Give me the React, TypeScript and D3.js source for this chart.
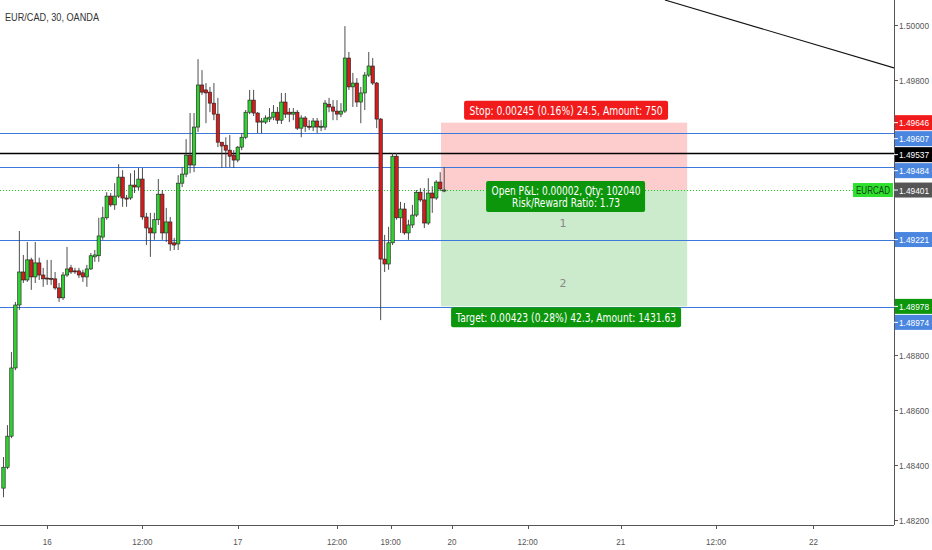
import React from 'react';
import * as d3 from 'd3';

// 30-minute candles, EUR/CAD
const opens = [1.48317,1.48393,1.48506,1.48754,1.48983,1.49103,1.49074,1.49147,1.49085,1.49136,1.49092,1.49081,1.49080,1.49078,1.49045,1.49009,1.49092,1.49118,1.49107,1.49107,1.49100,1.49085,1.49114,1.49158,1.49162,1.49230,1.49300,1.49379,1.49347,1.49379,1.49448,1.49372,1.49372,1.49419,1.49412,1.49441,1.49303,1.49263,1.49245,1.49293,1.49386,1.49245,1.49285,1.49209,1.49205,1.49426,1.49459,1.49528,1.49492,1.49630,1.49783,1.49765,1.49757,1.49717,1.49677,1.49575,1.49564,1.49546,1.49528,1.49510,1.49557,1.49593,1.49684,1.49728,1.49681,1.49648,1.49648,1.49659,1.49666,1.49684,1.49655,1.49721,1.49684,1.49677,1.49684,1.49626,1.49663,1.49633,1.49630,1.49652,1.49630,1.49630,1.49713,1.49703,1.49688,1.49677,1.49688,1.49881,1.49776,1.49790,1.49721,1.49754,1.49819,1.49852,1.49790,1.49659,1.49150,1.49132,1.49209,1.49524,1.49300,1.49332,1.49245,1.49274,1.49310,1.49393,1.49365,1.49281,1.49390,1.49372,1.49430,1.49399];
const highs = [1.48430,1.48546,1.48812,1.48994,1.49252,1.49165,1.49212,1.49155,1.49212,1.49155,1.49118,1.49147,1.49147,1.49103,1.49063,1.49103,1.49194,1.49129,1.49118,1.49118,1.49111,1.49129,1.49172,1.49183,1.49300,1.49340,1.49393,1.49390,1.49426,1.49495,1.49473,1.49383,1.49462,1.49473,1.49481,1.49481,1.49318,1.49318,1.49318,1.49441,1.49401,1.49336,1.49303,1.49227,1.49455,1.49484,1.49586,1.49681,1.49681,1.49877,1.49837,1.49790,1.49776,1.49790,1.49736,1.49575,1.49593,1.49601,1.49546,1.49561,1.49608,1.49692,1.49765,1.49765,1.49684,1.49663,1.49673,1.49699,1.49710,1.49703,1.49754,1.49754,1.49699,1.49699,1.49692,1.49673,1.49670,1.49655,1.49663,1.49663,1.49655,1.49728,1.49736,1.49728,1.49728,1.49717,1.49997,1.49903,1.49827,1.49808,1.49776,1.49830,1.49903,1.49881,1.49794,1.49663,1.49238,1.49267,1.49535,1.49535,1.49358,1.49354,1.49293,1.49347,1.49401,1.49408,1.49408,1.49444,1.49415,1.49437,1.49466,1.49484];
const lows = [1.48284,1.48386,1.48499,1.48746,1.48965,1.49063,1.49067,1.49038,1.49063,1.49074,1.49049,1.49056,1.49056,1.49038,1.48994,1.49001,1.49085,1.49096,1.49096,1.49081,1.49067,1.49049,1.49111,1.49140,1.49140,1.49220,1.49293,1.49340,1.49329,1.49372,1.49340,1.49340,1.49365,1.49390,1.49401,1.49293,1.49201,1.49158,1.49220,1.49274,1.49220,1.49212,1.49180,1.49183,1.49183,1.49412,1.49448,1.49462,1.49466,1.49612,1.49747,1.49644,1.49684,1.49655,1.49557,1.49481,1.49484,1.49484,1.49481,1.49502,1.49546,1.49586,1.49677,1.49670,1.49608,1.49608,1.49641,1.49648,1.49655,1.49641,1.49641,1.49663,1.49648,1.49655,1.49619,1.49593,1.49612,1.49619,1.49615,1.49608,1.49615,1.49619,1.49684,1.49655,1.49655,1.49666,1.49681,1.49765,1.49703,1.49703,1.49644,1.49692,1.49812,1.49783,1.49626,1.48928,1.49103,1.49111,1.49201,1.49293,1.49245,1.49238,1.49220,1.49263,1.49303,1.49358,1.49263,1.49274,1.49318,1.49365,1.49397,1.49393];
const closes = [1.48393,1.48506,1.48754,1.48983,1.49103,1.49074,1.49147,1.49085,1.49136,1.49092,1.49078,1.49080,1.49078,1.49045,1.49009,1.49092,1.49114,1.49103,1.49105,1.49092,1.49085,1.49114,1.49162,1.49165,1.49234,1.49300,1.49379,1.49347,1.49379,1.49448,1.49372,1.49368,1.49419,1.49412,1.49441,1.49303,1.49263,1.49245,1.49293,1.49386,1.49245,1.49285,1.49205,1.49201,1.49426,1.49459,1.49528,1.49492,1.49630,1.49783,1.49757,1.49754,1.49717,1.49677,1.49575,1.49561,1.49546,1.49524,1.49510,1.49557,1.49593,1.49684,1.49728,1.49681,1.49648,1.49652,1.49663,1.49666,1.49684,1.49655,1.49721,1.49677,1.49677,1.49684,1.49626,1.49663,1.49633,1.49630,1.49652,1.49630,1.49633,1.49717,1.49703,1.49688,1.49677,1.49688,1.49881,1.49776,1.49790,1.49721,1.49754,1.49819,1.49852,1.49790,1.49659,1.49150,1.49132,1.49209,1.49524,1.49300,1.49332,1.49245,1.49274,1.49310,1.49393,1.49365,1.49281,1.49390,1.49372,1.49430,1.49405,1.49401];

// time axis (positions in bar index units)
const timeTickIdx = [11, 35, 59, 84, 97.5, 113, 132, 155.5, 179.5, 204];
const timeTickLabels = ['16', '12:00', '17', '12:00', '19:00', '20', '12:00', '21', '12:00', '22'];

const priceTicks = [1.482, 1.484, 1.486, 1.488, 1.49, 1.492, 1.494, 1.496, 1.498, 1.5];

// horizontal levels
const blueLevels = [1.49607, 1.49484, 1.49221, 1.48974];
const blackLevel = 1.49537;
const lastPrice = 1.49401;

// price scale badges
const badgeValues = [1.49646, 1.49607, 1.49537, 1.49484, 1.49401, 1.49221, 1.48978, 1.48974];
const badgeColors = ['#f21b1b', '#4a86e0', '#000000', '#4a86e0', '#555555', '#4a86e0', '#0c960c', '#4a86e0'];

// short position tool
const posStartIdx = 110.2;
const posEndIdx = 172.2;
const entryPrice = 1.49401;
const stopPrice = 1.49646;
const targetPrice = 1.48978;
const stopText = 'Stop: 0.00245 (0.16%) 24.5, Amount: 750';
const pnlText = ['Open P&L: 0.00002, Qty: 102040', 'Risk/Reward Ratio: 1.73'];
const targetText = 'Target: 0.00423 (0.28%) 42.3, Amount: 1431.63';

// trend line
const trendIdx = [166.6, 224.3];
const trendPrice = [1.50092, 1.49845];

const W = 932;
const H = 550;
const plotR = 894;
const plotB = 525;

const x = d3.scaleLinear().domain([-0.88, 224.3]).range([0, plotR]);
const y = d3.scaleLinear().domain([1.48183, 1.50092]).range([plotB, 0]);
const crisp = (v: number) => Math.round(v) + 0.5;

const UP = '#30d030';
const DOWN = '#d41c1c';
const AXIS_FONT = '"Liberation Sans", Arial, sans-serif';
const LABEL_FONT = '"DejaVu Sans", Verdana, sans-serif';

export default function App() {
  // stack badges so they don't overlap
  const badgeY: number[] = [];
  badgeValues.forEach((v, i) => {
    const t = y(v);
    badgeY.push(i === 0 ? t : Math.max(t, badgeY[i - 1] + 16));
  });
  // plain tick labels hidden behind a badge are not drawn
  const visibleTicks = priceTicks.filter((v) => badgeY.every((b) => Math.abs(b - y(v)) > 13));

  const bx0 = x(posStartIdx);
  const bx1 = x(posEndIdx);
  const bcx = (bx0 + bx1) / 2 + 2;

  return (
    <svg width={W} height={H} style={{ position: 'absolute', left: 0, top: 0, background: '#fff' }}>
      <defs>
        <clipPath id="plot">
          <rect x={0} y={0} width={plotR} height={plotB} />
        </clipPath>
      </defs>

      <g clipPath="url(#plot)">
        {/* position zones */}
        <rect x={bx0} y={y(stopPrice)} width={bx1 - bx0} height={y(entryPrice) - y(stopPrice)} fill="rgba(245,0,0,0.2)" />
        <rect x={bx0} y={y(entryPrice)} width={bx1 - bx0} height={y(targetPrice) - y(entryPrice)} fill="rgba(0,155,0,0.2)" />

        {blueLevels.map((v, i) => (
          <line key={i} x1={0} x2={plotR} y1={crisp(y(v))} y2={crisp(y(v))} stroke="#3d78dc" strokeWidth={1} />
        ))}
        <line x1={0} x2={plotR} y1={crisp(y(blackLevel))} y2={crisp(y(blackLevel))} stroke="#000" strokeWidth={1.3} />
        <line x1={0} x2={plotR} y1={crisp(y(lastPrice))} y2={crisp(y(lastPrice))} stroke="#1ec81e" strokeWidth={1} strokeDasharray="1,2" />

        <line x1={x(trendIdx[0])} y1={y(trendPrice[0])} x2={x(trendIdx[1])} y2={y(trendPrice[1])} stroke="#111" strokeWidth={1.1} />

        {/* candles */}
        {opens.map((o, i) => {
          const c = closes[i];
          const cx = x(i);
          const up = c >= o;
          const top = y(Math.max(o, c));
          const h = Math.max(1, y(Math.min(o, c)) - top);
          return (
            <g key={i}>
              <line x1={cx} x2={cx} y1={y(highs[i])} y2={y(lows[i])} stroke="#3a3a3a" strokeWidth={0.9} />
              <rect x={cx - 1.7} y={top} width={3.4} height={h} fill={up ? UP : DOWN} stroke="#1e1e1e" strokeWidth={0.6} />
            </g>
          );
        })}

        {/* position labels */}
        <text x={bcx - 3} y={y(entryPrice) + 37} textAnchor="middle" fontFamily={LABEL_FONT} fontSize={11} fill="#888">1</text>
        <text x={bcx - 3} y={y(entryPrice) + 97} textAnchor="middle" fontFamily={LABEL_FONT} fontSize={11} fill="#888">2</text>

        <rect x={bcx - 102} y={y(stopPrice) - 22} width={204} height={19} rx={2} fill="#f21b1b" />
        <text x={bcx} y={y(stopPrice) - 7.5} textAnchor="middle" fontFamily={LABEL_FONT} fontSize={11.5} fill="#fff" textLength={193} lengthAdjust="spacingAndGlyphs">{stopText}</text>

        <rect x={bcx - 80} y={y(entryPrice) - 9} width={159} height={31} rx={2} fill="#0c960c" />
        <text x={bcx} y={y(entryPrice) + 4.5} textAnchor="middle" fontFamily={LABEL_FONT} fontSize={11.5} fill="#fff" textLength={149} lengthAdjust="spacingAndGlyphs">{pnlText[0]}</text>
        <text x={bcx} y={y(entryPrice) + 17} textAnchor="middle" fontFamily={LABEL_FONT} fontSize={11.5} fill="#fff" textLength={108} lengthAdjust="spacingAndGlyphs">{pnlText[1]}</text>

        <rect x={bcx - 115} y={y(targetPrice) + 1} width={230} height={20} rx={2} fill="#0c960c" />
        <text x={bcx} y={y(targetPrice) + 15.5} textAnchor="middle" fontFamily={LABEL_FONT} fontSize={11.5} fill="#fff" textLength={220} lengthAdjust="spacingAndGlyphs">{targetText}</text>

        {/* last price symbol tag */}
        <rect x={853} y={y(lastPrice) - 7} width={40} height={14} fill="#2fe02f" />
        <text x={873} y={y(lastPrice) + 4} textAnchor="middle" fontFamily={AXIS_FONT} fontSize={10} fill="#114411" textLength={34} lengthAdjust="spacingAndGlyphs">EURCAD</text>
      </g>

      {/* title */}
      <text x={5} y={21} fontFamily={AXIS_FONT} fontSize={11} fill="#333" textLength={94} lengthAdjust="spacingAndGlyphs">EUR/CAD, 30, OANDA</text>

      {/* axes */}
      <line x1={plotR + 0.5} x2={plotR + 0.5} y1={0} y2={plotB} stroke="#555" />
      <line x1={0} x2={plotR} y1={plotB + 0.5} y2={plotB + 0.5} stroke="#555" />

      {visibleTicks.map((v, i) => (
        <g key={i}>
          <line x1={plotR} x2={plotR + 4} y1={crisp(y(v))} y2={crisp(y(v))} stroke="#555" />
          <text x={plotR + 5} y={y(v) + 3.5} fontFamily={AXIS_FONT} fontSize={9.5} fill="#555" textLength={30} lengthAdjust="spacingAndGlyphs">{v.toFixed(5)}</text>
        </g>
      ))}

      {timeTickIdx.map((t, i) => (
        <g key={i}>
          <line x1={crisp(x(t))} x2={crisp(x(t))} y1={plotB} y2={plotB + 4} stroke="#555" />
          <text x={x(t)} y={545} textAnchor="middle" fontFamily={AXIS_FONT} fontSize={9.5} fill="#555" transform={`translate(${x(t)},0) scale(0.85,1) translate(${-x(t)},0)`}>{timeTickLabels[i]}</text>
        </g>
      ))}

      {badgeValues.map((v, i) => (
        <g key={i}>
          <rect x={plotR + 1} y={badgeY[i] - 7.5} width={W - plotR - 1} height={15} fill={badgeColors[i]} />
          <line x1={plotR} x2={plotR + 4} y1={badgeY[i]} y2={badgeY[i]} stroke="#fff" />
          <text x={plotR + 5} y={badgeY[i] + 3.5} fontFamily={AXIS_FONT} fontSize={9.5} fill="#fff" textLength={30} lengthAdjust="spacingAndGlyphs">{v.toFixed(5)}</text>
        </g>
      ))}
    </svg>
  );
}
